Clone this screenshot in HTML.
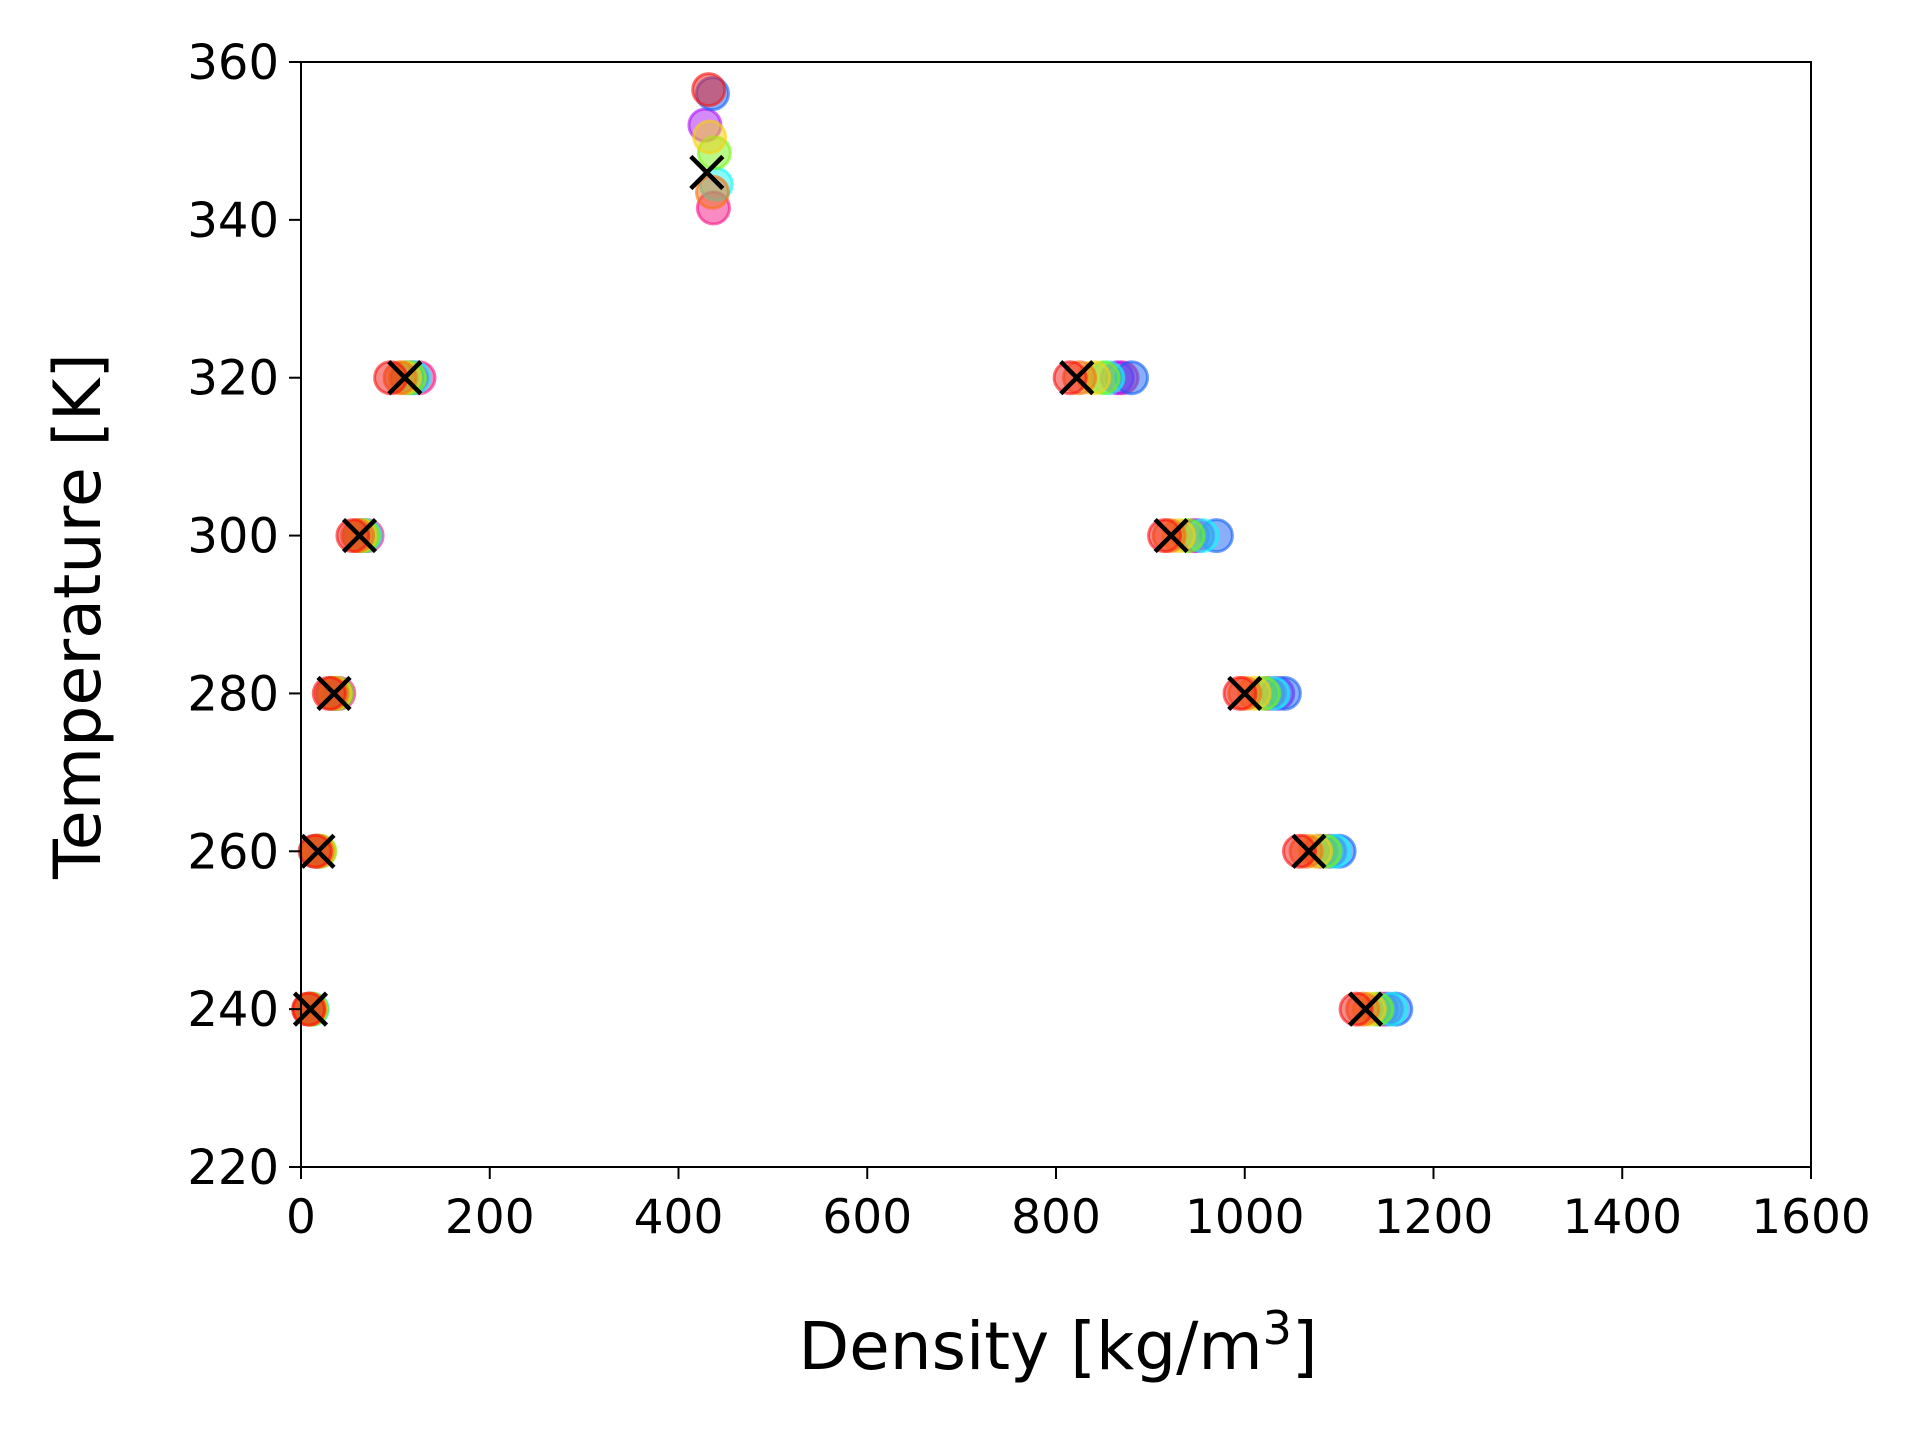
<!DOCTYPE html>
<html><head><meta charset="utf-8"><style>
body{margin:0;background:#fff}
svg text{font-family:"DejaVu Sans","Liberation Sans",sans-serif;fill:#000}
</style></head><body>
<svg id="chart" width="1920" height="1440" viewBox="0 0 1920 1440" xmlns="http://www.w3.org/2000/svg">
<rect width="1920" height="1440" fill="#fff"/>
<g id="marks"></g>
<g id="xs"></g>
<rect x="301" y="62" width="1510" height="1105" fill="none" stroke="#000" stroke-width="2"/>
<g id="axes"></g>
<text transform="translate(100,616) rotate(-90)" text-anchor="middle" font-size="65">Temperature [K]</text>
<text x="1058" y="1369" text-anchor="middle" font-size="66">Density [kg/m<tspan font-size="46" dy="-25">3</tspan><tspan dy="25">]</tspan></text>
</svg>
<script>
const xTicks=[0,200,400,600,800,1000,1200,1400,1600];
const yTicks=[220,240,260,280,300,320,340,360];
const temps=[240,260,280,300,320];
const seriesHues=[0,25,50,95,180,220,280,330];
const gasDensity=[
 [8,9,10,11,12,10,9,11],
 [15,17,19,20,18,16,18,19],
 [30,33,36,38,35,34,37,40],
 [55,60,63,66,68,62,65,70],
 [95,105,110,115,120,112,118,125]];
const liquidDensity=[
 [1118,1125,1132,1140,1155,1160,1150,1145],
 [1058,1065,1075,1085,1095,1100,1090,1080],
 [995,1000,1010,1020,1030,1042,1035,1025],
 [915,920,930,940,955,970,950,945],
 [815,825,840,850,855,880,865,870]];
const critDensity=[432,436,433,438,440,436,428,437];
const critTemp=[356.5,343.5,350.5,348.5,344.5,356,352,341.5];
const refDensity=[10,18,35,62,110,430,822,922,1000,1068,1128];
const refTemp=[240,260,280,300,320,346,320,300,280,260,240];
const X0=301,X1=1811,Y0=1167,Y1=62;
const sx=v=>X0+(v-0)/1600*(X1-X0);
const sy=v=>Y0-(v-220)/140*(Y0-Y1);
const NS="http://www.w3.org/2000/svg";
const marks=document.getElementById('marks'),xs=document.getElementById('xs'),axes=document.getElementById('axes');
function dot(x,y,h){const c=document.createElementNS(NS,'circle');


c.setAttribute('cx',sx(x));c.setAttribute('cy',sy(y));c.setAttribute('r',16);
c.setAttribute('fill',`hsla(${h},90%,52%,0.5)`);c.setAttribute('stroke',`hsla(${h},95%,52%,0.6)`);c.setAttribute('stroke-width',3);
marks.appendChild(c);}
for(let s=seriesHues.length-1;s>=0;s--){const h=seriesHues[s];
 temps.forEach((t,i)=>{dot(gasDensity[i][s],t,h);dot(liquidDensity[i][s],t,h);});
 dot(critDensity[s],critTemp[s],h);
}
refDensity.forEach((d,i)=>{const x=sx(d),y=sy(refTemp[i]),r=16;
 const p=document.createElementNS(NS,'path');
 
 
 p.setAttribute('d',`M${x-r} ${y-r}L${x+r} ${y+r}M${x-r} ${y+r}L${x+r} ${y-r}`);
 p.setAttribute('stroke','#000');p.setAttribute('stroke-width',4.5);xs.appendChild(p);});
xTicks.forEach(v=>{const x=sx(v);
 const l=document.createElementNS(NS,'line');
 
 
 l.setAttribute('x1',x);l.setAttribute('x2',x);l.setAttribute('y1',Y0);l.setAttribute('y2',Y0+12);l.setAttribute('stroke','#000');l.setAttribute('stroke-width',2);axes.appendChild(l);
 const t=document.createElementNS(NS,'text');
 
 
 t.setAttribute('x',x);t.setAttribute('y',Y0+66);t.setAttribute('text-anchor','middle');t.setAttribute('font-size','47');t.textContent=v;axes.appendChild(t);});
yTicks.forEach(v=>{const y=sy(v);
 const l=document.createElementNS(NS,'line');
 
 
 l.setAttribute('x1',X0-12);l.setAttribute('x2',X0);l.setAttribute('y1',y);l.setAttribute('y2',y);l.setAttribute('stroke','#000');l.setAttribute('stroke-width',2);axes.appendChild(l);
 const t=document.createElementNS(NS,'text');
 
 
 t.setAttribute('x',X0-22);t.setAttribute('y',y+17);t.setAttribute('text-anchor','end');t.setAttribute('font-size','48');t.textContent=v;axes.appendChild(t);});
</script>
</body></html>
